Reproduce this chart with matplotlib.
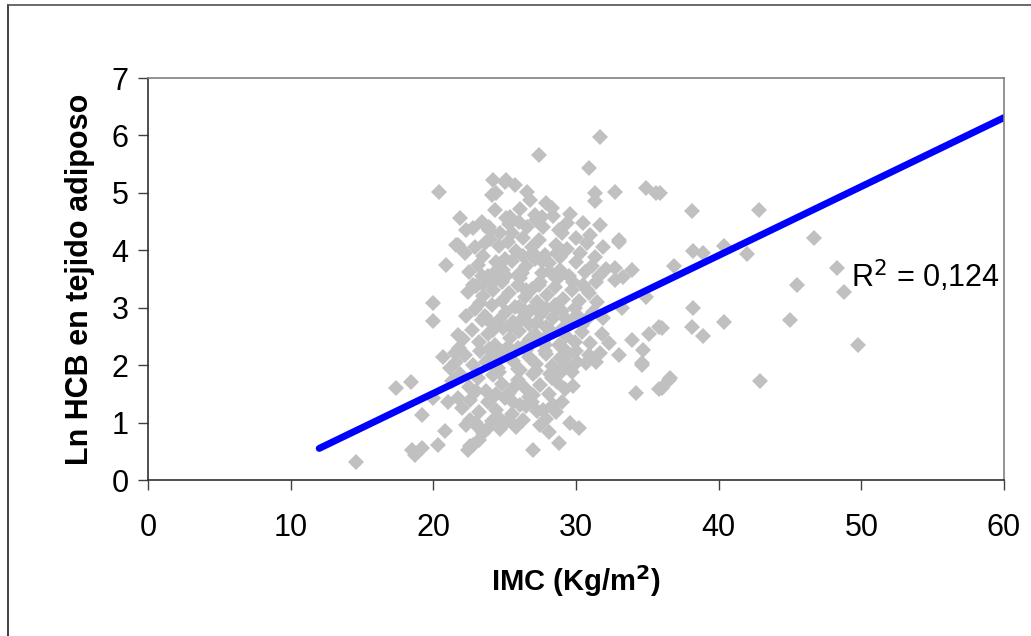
import matplotlib.pyplot as plt
from matplotlib.lines import Line2D
import numpy as np

plt.rcParams['font.family'] = ['Liberation Sans', 'DejaVu Sans']

#----------------------------------------------------------------------------------------#
# data: IMC (x) and Ln HCB (y)

imc_outer = [14.6, 17.4, 18.4, 19.2, 20.8, 20.3, 18.5, 19.2, 18.7, 22.8, 22.4, 22.6, 23.2,
             20.0, 21.0, 21.7, 29.3, 30.7, 31.4, 34.6, 29.8, 34.2, 35.8, 36.5, 28.3, 29.0,
             28.1, 28.8, 27.0, 29.6, 30.2, 27.9, 27.7, 28.6, 26.5, 38.1, 42.8, 46.7, 38.2,
             38.9, 40.4, 42.0, 36.9, 35.9, 48.3, 45.5, 48.8, 38.2, 36.0, 38.1, 38.9, 40.4,
             45.0, 49.8, 36.6, 36.0, 42.9, 33.0, 28.2, 32.7, 33.9, 33.3, 32.7, 34.9, 33.2,
             31.9, 35.8, 35.1, 33.9, 32.3, 33.0, 34.7, 34.6, 31.0, 30.9, 31.7, 31.7, 27.4,
             30.9, 34.9, 35.6, 32.7, 31.3, 31.3, 28.3, 29.6, 31.7, 30.5, 33.0, 25.1, 25.7,
             26.6, 26.8, 29.0, 30.0, 31.0, 27.6, 25.4, 27.2, 20.4, 24.2, 25.0, 24.1, 24.4,
             24.3, 21.9, 22.3, 22.8, 23.4, 23.9, 25.1, 21.6, 20.9, 20.0, 20.0, 21.7, 23.4,
             22.8, 24.1, 21.7, 20.7, 21.5, 22.3, 23.0, 23.8, 24.5]
hcb_outer = [0.32, 1.60, 1.71, 1.13, 0.86, 0.61, 0.52, 0.55, 0.44, 0.61, 0.52, 0.60, 0.70,
             1.42, 1.36, 1.42, 1.98, 2.03, 2.06, 2.00, 1.64, 1.51, 1.58, 1.74, 1.77, 1.36,
             0.84, 0.64, 0.53, 0.99, 0.90, 1.07, 1.22, 1.19, 1.28, 4.68, 4.71, 4.21, 3.98,
             3.95, 4.07, 3.93, 3.73, 4.99, 3.70, 3.40, 3.28, 2.99, 2.64, 2.67, 2.50, 2.75,
             2.79, 2.35, 1.77, 1.60, 1.72, 4.15, 3.63, 3.69, 3.66, 3.54, 3.48, 3.19, 2.99,
             2.82, 2.67, 2.55, 2.44, 2.38, 2.18, 2.26, 2.03, 2.38, 2.18, 2.21, 5.98, 5.66,
             5.43, 5.08, 4.99, 5.02, 4.99, 4.85, 4.73, 4.64, 4.44, 4.47, 4.18, 5.22, 5.14,
             5.02, 4.88, 4.30, 4.21, 4.27, 4.58, 4.58, 4.53, 5.02, 5.22, 5.19, 4.96, 4.99,
             4.70, 4.56, 4.35, 4.38, 4.50, 4.41, 4.56, 4.09, 3.74, 3.08, 2.76, 2.52, 2.79,
             3.40, 3.43, 4.09, 2.15, 2.21, 0.95, 1.00, 0.90, 1.10]

imc_core = [25.3, 26.1, 26.6, 27.9, 28.4, 24.7, 23.6, 28.8,
            22.2, 22.9, 23.5, 24.0, 24.6, 25.2, 25.8, 26.3, 26.9, 27.4, 27.8, 28.6, 29.4,
            30.3, 30.8, 31.3, 31.9,
            22.5, 23.1, 23.8, 24.4, 24.9, 25.5, 26.0, 26.5, 27.1, 27.6, 28.1, 28.9, 29.5,
            30.0, 30.6, 31.1, 31.6, 32.1,
            22.4, 23.0, 23.5, 24.2, 24.8, 25.3, 25.9, 26.4, 26.9, 27.5, 28.0, 28.5, 29.1,
            29.7, 30.2, 30.9, 31.5,
            22.9, 23.6, 24.1, 24.6, 25.1, 25.7, 26.2, 26.8, 27.3, 27.9, 28.4, 29.0, 29.6,
            30.1, 30.7, 31.2,
            22.1, 22.7, 23.2, 23.8, 24.3, 24.9, 25.4, 26.0, 26.6, 27.1, 27.7, 28.2, 28.8,
            29.3, 29.9, 30.4,
            21.6, 22.2, 22.8, 23.3, 23.9, 24.5, 25.0, 25.6, 26.1, 26.7, 27.2, 27.8, 28.3,
            28.9, 29.5, 30.1,
            21.3, 21.9, 22.5, 23.1, 23.7, 24.2, 24.8, 25.3, 25.9, 26.4, 27.0, 27.5, 28.1,
            28.7, 29.2,
            22.0, 22.6, 23.2, 23.8, 24.4, 25.0, 25.5, 26.1, 26.7, 27.3,
            23.0, 23.5, 24.1, 24.7, 25.2, 25.8,
            23.4, 24.0, 24.6, 25.1, 25.6, 26.2, 26.8, 27.3, 27.9, 28.5, 23.7, 24.3, 25.8,
            26.4, 27.0, 27.6, 28.2, 28.7, 29.3, 29.8, 23.0, 23.9, 25.5, 26.9, 27.7, 24.4,
            25.9, 26.5, 28.0, 29.0, 30.5, 31.8, 30.0, 22.3, 21.8, 21.2, 22.6, 24.9, 26.3,
            27.5,
            23.3, 24.8, 26.0, 27.2, 28.6, 29.9, 24.2, 25.4, 26.7, 27.9, 29.1, 30.4, 23.9,
            25.2, 26.5, 27.8, 29.1, 24.6, 25.9, 27.2, 28.5, 29.7, 23.5, 24.8, 26.1, 27.4,
            28.7, 25.0, 26.3, 27.6, 28.9, 24.0, 25.6, 27.0, 28.4, 26.0, 27.1, 29.4, 30.8,
            31.4]
hcb_core = [4.45, 4.72, 4.40, 4.82, 4.60, 4.30, 4.12, 4.35,
            3.95, 4.05, 3.90, 4.20, 4.08, 4.15, 3.98, 4.22, 4.05, 4.18, 3.92, 4.10, 4.02,
            3.95, 4.12, 3.88, 4.05,
            3.62, 3.75, 3.55, 3.80, 3.65, 3.82, 3.58, 3.72, 3.85, 3.60, 3.78, 3.66, 3.55,
            3.80, 3.62, 3.72, 3.56, 3.68,
            3.28, 3.38, 3.20, 3.30, 3.45, 3.25, 3.40, 3.18, 3.32, 3.45, 3.22, 3.36, 3.15,
            3.30, 3.12, 3.25, 3.10,
            2.98, 2.85, 3.05, 2.78, 2.92, 3.02, 2.80, 2.95, 2.75, 3.00, 2.82, 2.95, 2.72,
            2.88, 2.78, 2.92,
            2.45, 2.62, 2.40, 2.55, 2.35, 2.65, 2.48, 2.60, 2.38, 2.55, 2.42, 2.62, 2.35,
            2.50, 2.40, 2.58,
            2.05, 2.18, 2.00, 2.25, 2.10, 1.95, 2.22, 2.08, 1.92, 2.15, 2.02, 2.25, 1.98,
            2.12, 2.20, 2.05,
            1.72, 1.85, 1.62, 1.78, 1.55, 1.82, 1.68, 1.52, 1.75, 1.60, 1.85, 1.65, 1.50,
            1.70, 1.58,
            1.25, 1.40, 1.18, 1.35, 1.22, 1.42, 1.15, 1.30, 1.45, 1.20,
            0.95, 0.82, 1.02, 0.88, 1.05, 0.92,
            3.55, 2.75, 2.20, 3.55, 2.75, 3.60, 2.45, 3.10, 2.20, 3.05, 2.05, 3.62, 1.65,
            2.95, 3.95, 2.90, 1.85, 3.95, 2.80, 3.45, 1.55, 4.35, 4.30, 1.35, 4.40, 1.50,
            2.30, 3.30, 2.50, 1.90, 3.40, 2.55, 2.25, 2.85, 2.30, 1.95, 1.05, 0.95, 1.05,
            0.95,
            3.08, 3.12, 3.02, 2.98, 2.96, 3.00, 2.62, 2.68, 2.72, 2.66, 2.64, 2.70, 2.28,
            2.32, 2.26, 2.35, 2.30, 1.88, 1.94, 1.90, 1.80, 1.88, 3.42, 3.48, 3.52, 3.40,
            3.50, 3.85, 3.90, 3.82, 3.88, 1.40, 1.35, 1.48, 1.30, 4.50, 4.62, 4.48, 3.30,
            3.45]

# trend line (Excel linear fit) and its R^2
fit_slope = 0.12
fit_intercept = -0.89
fit_range = [12.0, 60.0]
r2_label = 'R$^2$ = 0,124'

#----------------------------------------------------------------------------------------#

fig = plt.figure(figsize=(10.31, 6.36), dpi=100)
ax = fig.add_axes([148 / 1031, 1 - 480 / 636, 856 / 1031, 402 / 636])

imc = imc_outer + imc_core
hcb = hcb_outer + hcb_core
ax.plot(imc, hcb, linestyle='none', marker='D', markersize=8.3,
        color='#c0c0c0', markeredgewidth=0, clip_on=False)

fx = np.array(fit_range)
ax.plot(fx, fit_slope * fx + fit_intercept, color='#0000ff', linewidth=5,
        solid_capstyle='round')

ax.text(49.3, 3.55, r2_label, fontsize=22, ha='left', va='center')

ax.set_xlim(0, 60)
ax.set_ylim(0, 7)
ax.set_xticks(range(0, 61, 10))
ax.set_yticks(range(0, 8))
ax.tick_params(axis='both', labelsize=22, direction='out', length=7,
               width=1, color='#404040')
ax.tick_params(axis='x', pad=17)
ax.tick_params(axis='y', pad=7)

for side in ['left', 'bottom']:
    ax.spines[side].set_color('#303030')
    ax.spines[side].set_linewidth(1.2)
for side in ['top', 'right']:
    ax.spines[side].set_color('#808080')
    ax.spines[side].set_linewidth(1.2)

ax.set_xlabel('IMC (Kg/m$^\\mathbf{2}$)', fontsize=21, fontweight='bold', labelpad=14)
ax.set_ylabel('Ln HCB en tejido adiposo', fontsize=22, fontweight='bold', labelpad=12)

# outer chart frame (only left and top edges visible)
fig.add_artist(Line2D([8 / 1031, 8 / 1031], [0, 1 - 5 / 636], color='#202020',
                      linewidth=1.2, transform=fig.transFigure))
fig.add_artist(Line2D([8 / 1031, 1], [1 - 5 / 636, 1 - 5 / 636], color='#505050',
                      linewidth=1.2, transform=fig.transFigure))

plt.savefig('out.png', dpi=100)
